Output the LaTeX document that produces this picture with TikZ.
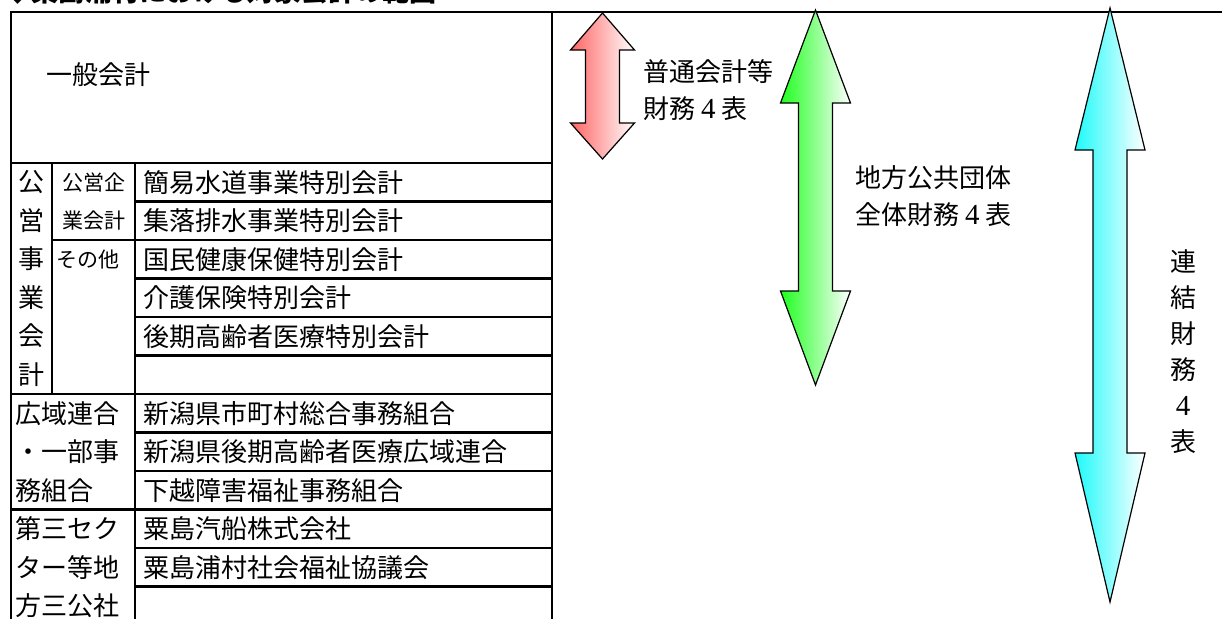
\documentclass[tikz,border=0pt]{standalone}
\usepackage{fontspec}
\newfontfamily\jp{Noto Sans CJK JP}
\newfontfamily\num{Liberation Serif}
\usetikzlibrary{positioning}

\definecolor{arrred}{RGB}{255,100,100}
\definecolor{arrgreen}{RGB}{30,255,30}
\definecolor{arrcyan}{RGB}{30,250,250}

% up-down block arrow: colour, x, top, upper base, lower base, bottom, head half width
\newcommand{\vbiarrow}[7]{%
  \shade[left color=#1, right color=white, draw=black, line width=1.2pt, line join=miter]
    (#2,#3) -- (#2+#7,#4) -- (#2+17,#4) -- (#2+17,#5) -- (#2+#7,#5) -- (#2,#6)
    -- (#2-#7,#5) -- (#2-17,#5) -- (#2-17,#4) -- (#2-#7,#4) -- cycle;}
\newcommand{\four}{{\num\fontsize{29}{29}\selectfont 4}}

\begin{document}
\begin{tikzpicture}[x=1pt, y=-1pt]
      \tikzstyle{cell} = [anchor=west, inner sep=0pt, align=left, font=\jp\fontsize{26}{38.5}\selectfont]
      \tikzstyle{small} = [inner sep=0pt, align=center, font=\jp\fontsize{21}{38.5}\selectfont]
      \tikzstyle{note} = [anchor=west, inner sep=0pt, align=left, font=\jp\fontsize{26}{37}\selectfont]
      \tikzstyle{rule} = [line width=2.2pt]
      \useasboundingbox (0,0) rectangle (1222,619);

      % title, cut by the page edge
      \node[anchor=base west, inner sep=0pt, font=\jp\bfseries\fontsize{27}{27}\selectfont] (title) at (4,1) {◆粟島浦村における対象会計の範囲};

      % table
      \draw[rule] (1222,12) -- (11,12) -- (11,619);
      \draw[rule] (552,12) -- (552,619);
      \draw[rule] (11,163) -- (552,163);
      \draw[rule] (11,394) -- (552,394);
      \draw[rule] (11,509.5) -- (552,509.5);
      \draw[rule] (52,240) -- (552,240);
      \foreach \y in {201.5,278.5,317,355.5,432.5,471,548,586.5}
        \draw[rule] (135,\y) -- (552,\y);
      \draw[rule] (52,163) -- (52,394);
      \draw[rule] (135,163) -- (135,619);

      \node[cell] (general) at (46,75) {一般会計};
      \node[small, font=\jp\fontsize{26}{38.5}\selectfont] (public) at (31.5,278.5) {公\\営\\事\\業\\会\\計};
      \node[small] (enterprise) at (93.5,201.5) {公営企\\業会計};
      \node[small] (other) at (88,259.25) {その他};
      \node[cell] (union) at (15.5,451.75) {広域連合\\・一部事\\務組合};
      \node[cell] (third) at (15.5,567.25) {第三セク\\ター等地\\方三公社};

      \node[cell] (water) at (143,182.25) {簡易水道事業特別会計};
      \node[cell] (drain) at (143,220.75) {集落排水事業特別会計};
      \node[cell] (health) at (143,259.25) {国民健康保健特別会計};
      \node[cell] (care) at (143,297.75) {介護保険特別会計};
      \node[cell] (elder) at (143,336.25) {後期高齢者医療特別会計};
      \node[cell] (cities) at (143,413.25) {新潟県市町村総合事務組合};
      \node[cell] (medical) at (143,451.75) {新潟県後期高齢者医療広域連合};
      \node[cell] (welfare) at (143,490.25) {下越障害福祉事務組合};
      \node[cell] (ship) at (143,528.75) {粟島汽船株式会社};
      \node[cell] (council) at (143,567.25) {粟島浦村社会福祉協議会};

      % arrows
      \vbiarrow{arrred}{602.5}{13}{50}{123}{159}{32}
      \vbiarrow{arrgreen}{815.5}{10}{103}{291}{385}{35}
      \vbiarrow{arrcyan}{1110}{8}{150}{453}{602}{35}

      \node[note] (ordinary) at (643,90) {普通会計等\\財務 \four{} 表};
      \node[note] (whole) at (855,196) {地方公共団体\\全体財務 \four{} 表};
      \node[small, font=\jp\fontsize{26}{36}\selectfont] (consol) at (1183,352) {連\\結\\財\\務\\\four\\表};
    \end{tikzpicture}
\end{document}
